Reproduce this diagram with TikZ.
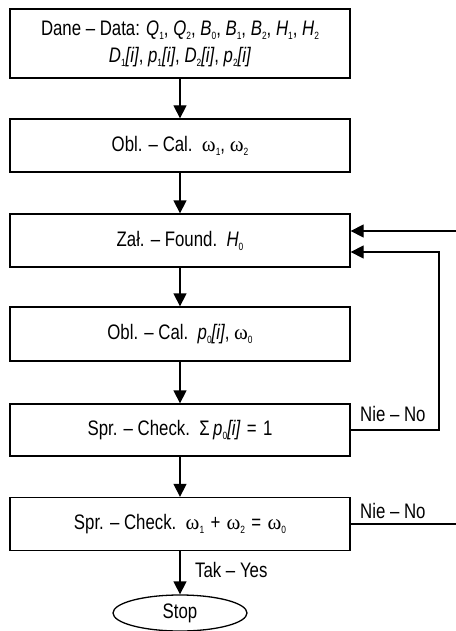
\documentclass[tikz,border=0pt]{standalone}
\usepackage{fontspec}
\setmainfont{Liberation Sans}[FakeStretch=0.8]
\newfontfamily\greekfont{Liberation Serif}
\usetikzlibrary{arrows.meta,shapes.geometric}

% small lowered index
\newcommand{\idx}[1]{\raisebox{-0.35ex}{\fontsize{10.5}{10.5}\selectfont #1}}
% italic variable with index
\newcommand{\iv}[2]{\textit{#1}\idx{#2}}
% omega with index
\newcommand{\om}[1]{{\greekfont ω}\idx{#1}}
% spaced relation sign
\newcommand{\rel}[1]{\hspace{0.3em}#1\hspace{0.3em}}

\tikzset{
  stepbox/.style={draw, line width=1.3pt, rectangle, minimum width=340pt,
    inner sep=0pt, align=center, font=\fontsize{21}{27}\selectfont},
  endbox/.style={draw, line width=1.3pt, ellipse, minimum width=134pt,
    minimum height=36pt, inner sep=0pt, font=\fontsize{21}{24}\selectfont},
  arr/.style={line width=1.3pt, -{Triangle[width=13pt,length=13pt]}},
  conn/.style={line width=1.3pt},
  lbl/.style={anchor=base west, inner sep=0pt, font=\fontsize{21}{24}\selectfont}
}

\begin{document}
\begin{tikzpicture}[x=1pt, y=-1pt]
\useasboundingbox (0,0) rectangle (455,631);

\node[stepbox, minimum height=69pt] (b1) at (180,43.5)
  {Dane -- Data: \iv{Q}{1}, \iv{Q}{2}, \iv{B}{0}, \iv{B}{1}, \iv{B}{2}, \iv{H}{1}, \iv{H}{2}\\
   \iv{D}{1}\textit{[i]}, \iv{p}{1}\textit{[i]}, \iv{D}{2}\textit{[i]}, \iv{p}{2}\textit{[i]}};
\node[stepbox, minimum height=53pt] (b2) at (180,145.5)
  {Obl. -- Cal.\ \ \om{1}, \om{2}};
\node[stepbox, minimum height=53pt] (b3) at (180,240.5)
  {Zał. -- Found.\ \ \iv{H}{0}};
\node[stepbox, minimum height=54pt] (b4) at (180,334)
  {Obl. -- Cal.\ \ \iv{p}{0}\textit{[i]}, \om{0}};
\node[stepbox, minimum height=52pt] (b5) at (180,430)
  {Spr. -- Check.\ \ Σ\,\iv{p}{0}\textit{[i]}\rel{=}1};
\node[stepbox, minimum height=53pt] (b6) at (180,524)
  {Spr. -- Check.\ \ \om{1}\rel{+}\om{2}\rel{=}\om{0}};
\node[endbox] (stop) at (180,613) {Stop};

% main flow
\draw[arr] (b1) -- (b2);
\draw[arr] (b2) -- (b3);
\draw[arr] (b3) -- (b4);
\draw[arr] (b4) -- (b5);
\draw[arr] (b5) -- (b6);
\draw[arr] (b6) -- (stop);

% feedback loops
\coordinate (in1) at (460,231);
\coordinate (turn) at (439,252);
\coordinate (out) at (460,524);
\draw[arr] (in1) -- (in1 -| b3.east);
\draw[arr] (b5.east) -| (turn) -- (turn -| b3.east);
\draw[conn] (b6.east) -- (out);

% branch labels
\node[lbl] (no1) at (360,421) {Nie -- No};
\node[lbl] (no2) at (360,518) {Nie -- No};
\node[lbl] (yes) at (195,577) {Tak -- Yes};
\end{tikzpicture}
\end{document}
